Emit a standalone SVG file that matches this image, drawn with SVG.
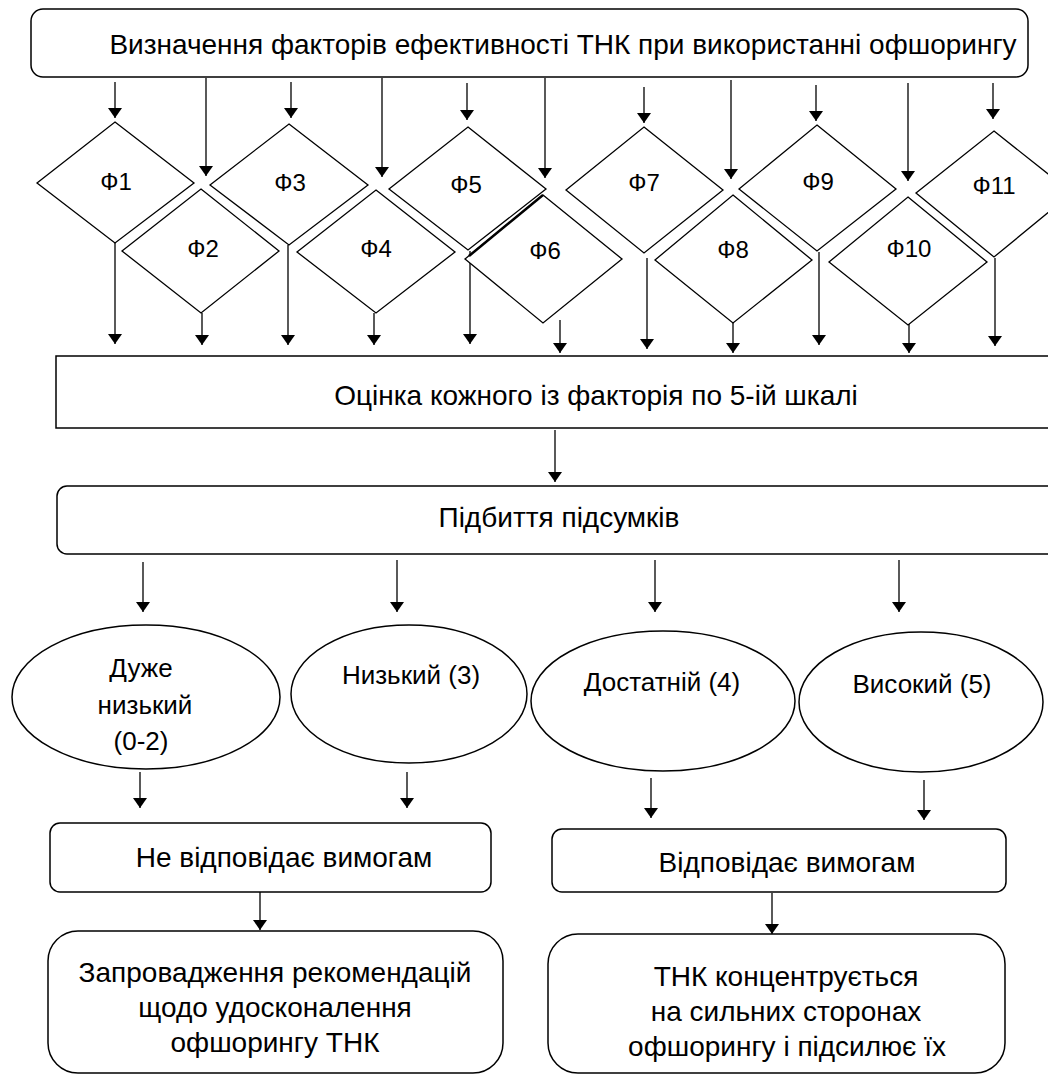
<svg xmlns="http://www.w3.org/2000/svg" width="1048" height="1075" viewBox="0 0 1048 1075">
<defs>
<marker id="ah" viewBox="0 0 10 14" refX="10" refY="7" markerWidth="10" markerHeight="14" markerUnits="userSpaceOnUse" orient="auto">
<path d="M0,0 L10,7 L0,14 Z" fill="#000"/>
</marker>
<style>
.box{fill:#fff;stroke:#000;stroke-width:1.5}
.dia{fill:#fff;stroke:#000;stroke-width:1.3}
.c{stroke:#000;stroke-width:1.3;fill:none;marker-end:url(#ah)}
text{font-family:"Liberation Sans",Arial,sans-serif;fill:#000;text-anchor:middle}
.t1{font-size:28px}
.t2{font-size:28px}
.te{font-size:26px}
.tf{font-size:24px}
</style>
</defs>
<rect width="1048" height="1075" fill="#fff"/>

<g id="connectors">
<line class="c" x1="115" y1="82" x2="115" y2="118"/>
<line class="c" x1="206" y1="78" x2="206" y2="176"/>
<line class="c" x1="291" y1="82" x2="291" y2="118"/>
<line class="c" x1="382" y1="78" x2="382" y2="177"/>
<line class="c" x1="467" y1="83" x2="467" y2="120"/>
<line class="c" x1="545" y1="78" x2="545" y2="178"/>
<line class="c" x1="644" y1="87" x2="644" y2="123"/>
<line class="c" x1="731" y1="80" x2="731" y2="179"/>
<line class="c" x1="816" y1="85" x2="816" y2="121"/>
<line class="c" x1="908" y1="83" x2="908" y2="181"/>
<line class="c" x1="993" y1="83" x2="993" y2="119"/>

<line class="c" x1="115" y1="243" x2="115" y2="344"/>
<line class="c" x1="202" y1="313" x2="202" y2="345"/>
<line class="c" x1="288" y1="245" x2="288" y2="345"/>
<line class="c" x1="374" y1="313" x2="374" y2="345"/>
<line class="c" x1="470" y1="251" x2="470" y2="344"/>
<line class="c" x1="560" y1="320" x2="560" y2="353"/>
<line class="c" x1="647" y1="258" x2="647" y2="349"/>
<line class="c" x1="733" y1="318" x2="733" y2="353"/>
<line class="c" x1="819" y1="252" x2="819" y2="345"/>
<line class="c" x1="909" y1="318" x2="909" y2="353"/>
<line class="c" x1="995" y1="258" x2="995" y2="346"/>

<line class="c" x1="555" y1="430" x2="555" y2="482"/>

<line class="c" x1="143" y1="562" x2="143" y2="612"/>
<line class="c" x1="397" y1="560" x2="397" y2="612"/>
<line class="c" x1="655" y1="560" x2="655" y2="612"/>
<line class="c" x1="899" y1="560" x2="899" y2="612"/>

<line class="c" x1="140" y1="772" x2="140" y2="808"/>
<line class="c" x1="407" y1="772" x2="407" y2="808"/>
<line class="c" x1="651" y1="778" x2="651" y2="818"/>
<line class="c" x1="924" y1="780" x2="924" y2="820"/>

<line class="c" x1="260" y1="892" x2="260" y2="930"/>
<line class="c" x1="772" y1="893" x2="772" y2="934"/>
</g>

<g id="n-top">
<rect class="box" x="31" y="9" width="997" height="68" rx="12"/>
<text class="t1" x="563" y="54">Визначення факторів ефективності ТНК при використанні офшорингу</text>
</g>

<g id="n-f1"><polygon class="dia" points="115,122 194,183 115,243 37,183"/><text class="tf" x="116" y="190">Ф1</text></g>
<g id="n-f2"><polygon class="dia" points="201,189 279,251 201,313 122,251"/><text class="tf" x="203" y="257">Ф2</text></g>
<g id="n-f3"><polygon class="dia" points="289,124 368,185 289,245 210,185"/><text class="tf" x="290" y="191">Ф3</text></g>
<g id="n-f4"><polygon class="dia" points="376,190 455,252 376,313 297,252"/><text class="tf" x="376" y="257">Ф4</text></g>
<g id="n-f5"><polygon class="dia" points="468,127 546,189 468,250 389,189"/><text class="tf" x="466" y="193">Ф5</text></g>
<g id="n-f6"><polygon class="dia" points="543,195 622,259 543,323 465,259"/><line x1="543" y1="195" x2="469" y2="256" stroke="#000" stroke-width="2.5"/><text class="tf" x="545" y="259">Ф6</text></g>
<g id="n-f7"><polygon class="dia" points="644,127 723,190 644,253 566,190"/><text class="tf" x="644" y="191">Ф7</text></g>
<g id="n-f8"><polygon class="dia" points="733,195 812,260 733,323 655,260"/><text class="tf" x="733" y="258">Ф8</text></g>
<g id="n-f9"><polygon class="dia" points="817,125 896,189 817,251 739,189"/><text class="tf" x="818" y="190">Ф9</text></g>
<g id="n-f10"><polygon class="dia" points="908,197 987,262 908,325 829,262"/><text class="tf" x="909" y="257">Ф10</text></g>
<g id="n-f11"><polygon class="dia" points="994,131 1072,193 994,257 916,193"/><text class="tf" x="994" y="194">Ф11</text></g>

<g id="n-score">
<rect class="box" x="56" y="356" width="1000" height="72"/>
<text class="t2" x="596" y="405">Оцінка кожного із факторія по 5-ій шкалі</text>
</g>

<g id="n-sum">
<rect class="box" x="57" y="486" width="1000" height="68" rx="10"/>
<text class="t2" x="559" y="527">Підбиття підсумків</text>
</g>

<g id="n-e1"><ellipse class="box" cx="146" cy="697" rx="134" ry="72"/>
<text class="te" x="141" y="677">Дуже</text><text class="te" x="145" y="714">низький</text><text class="te" x="141" y="750">(0-2)</text></g>
<g id="n-e2"><ellipse class="box" cx="409" cy="694" rx="118" ry="69"/><text class="te" x="411" y="684">Низький (3)</text></g>
<g id="n-e3"><ellipse class="box" cx="663" cy="701" rx="132" ry="70"/><text class="te" x="662" y="691">Достатній (4)</text></g>
<g id="n-e4"><ellipse class="box" cx="921" cy="702" rx="122" ry="70"/><text class="te" x="922" y="693">Високий (5)</text></g>

<g id="n-no">
<rect class="box" x="50" y="823" width="441" height="69" rx="10"/>
<text class="t2" x="284" y="867">Не відповідає вимогам</text>
</g>
<g id="n-yes">
<rect class="box" x="552" y="829" width="454" height="63" rx="10"/>
<text class="t2" x="787" y="872">Відповідає вимогам</text>
</g>

<g id="n-rec">
<rect class="box" x="48" y="931" width="455" height="142" rx="30"/>
<text class="t2" x="275" y="982">Запровадження рекомендацій</text>
<text class="t2" x="275" y="1017">щодо удосконалення</text>
<text class="t2" x="275" y="1052">офшорингу ТНК</text>
</g>
<g id="n-strong">
<rect class="box" x="548" y="934" width="457" height="139" rx="30"/>
<text class="t2" x="786" y="986">ТНК концентрується</text>
<text class="t2" x="786" y="1021">на сильних сторонах</text>
<text class="t2" x="787" y="1056">офшорингу і підсилює їх</text>
</g>
</svg>
